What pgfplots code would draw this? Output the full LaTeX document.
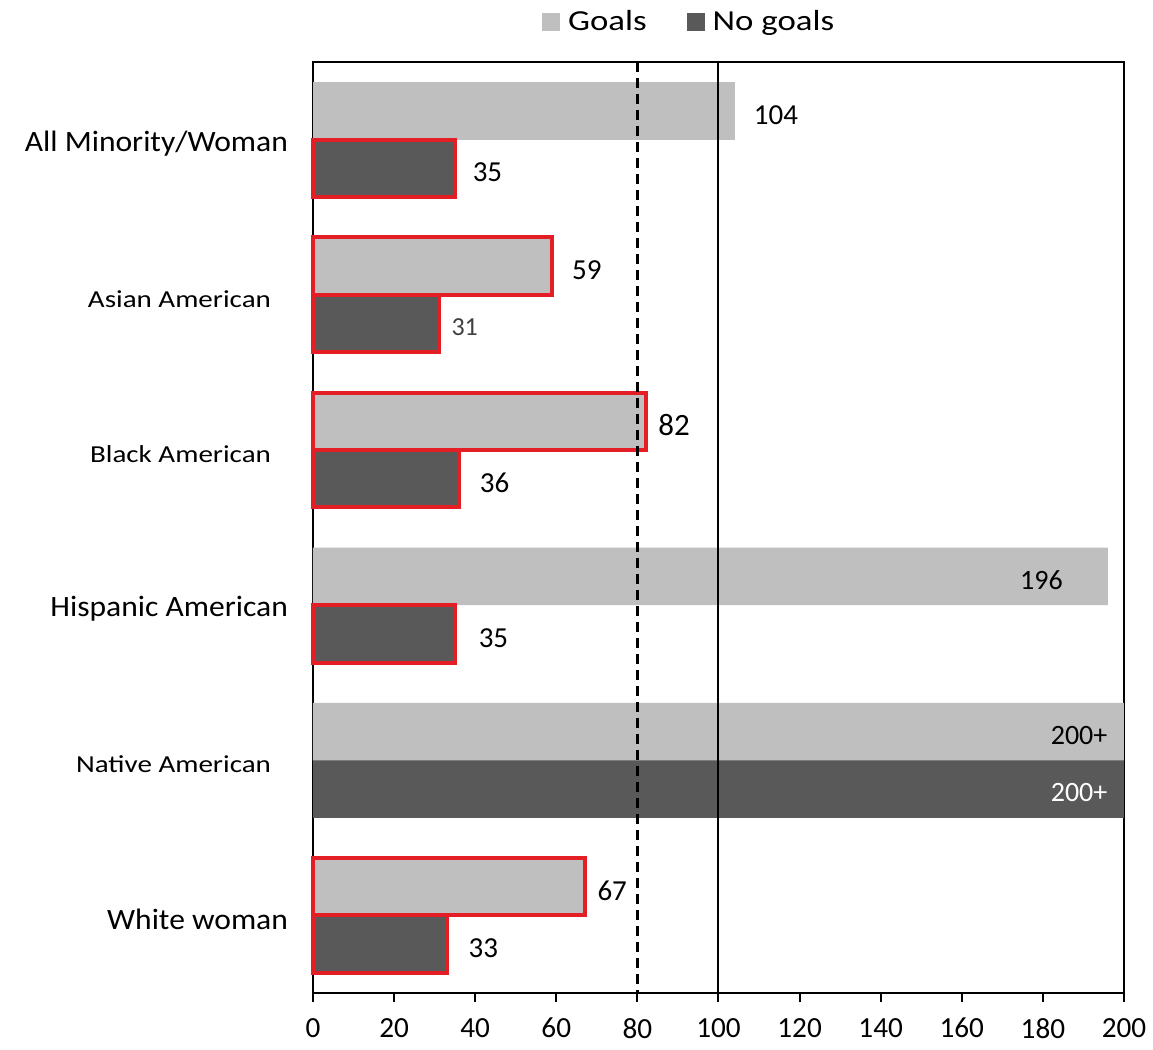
\documentclass[border=0pt]{standalone}
\usepackage{fontspec}
\setmainfont{Carlito}
\usepackage{pgfplots}
\pgfplotsset{compat=1.18}
\usepackage{graphicx}

\definecolor{goalgray}{HTML}{BFBFBF}
\definecolor{nogoalgray}{HTML}{595959}
\definecolor{flagred}{HTML}{E31E24}
\definecolor{softgray}{HTML}{404040}

\newcommand{\fs}[1]{\fontsize{#1}{#1}\selectfont}
% wide-set category labels
\newcommand{\biglab}[1]{\scalebox{1.07}[1]{\fs{14.75}#1}}
\newcommand{\smalllab}[1]{\scalebox{1.19}[1]{\fs{12.2}#1}\kern8.5pt}

\begin{document}
\begin{tikzpicture}
\begin{axis}[
  name=ax,
  scale only axis,
  width=405.5pt, height=465.5pt,
  xmin=0, xmax=200,
  ymin=-0.5, ymax=5.5,
  y dir=reverse,
  xtick={0,20,...,200},
  ytick={0,...,5},
  yticklabels={
    {\biglab{All Minority/Woman}},
    {\smalllab{Asian American}},
    {\smalllab{Black American}},
    {\biglab{Hispanic American}},
    {\smalllab{Native American}},
    {\biglab{White woman}}},
  axis line style={line width=1pt},
  tick align=outside,
  xtick pos=left,
  ytick pos=left,
  major tick length=4.5pt,
  xtick style={line width=1pt, black},
  ytick style={draw=none},
  xticklabel style={font=\fs{14.6}, yshift=-4.5pt},
  yticklabel style={xshift=-4.5pt, yshift=-2pt},
  /pgf/number format/assume math mode=true,
  legend columns=2,
  legend style={draw=none, fill=none, at={(0.465,1.043)}, anchor=center,
    font=\fs{14.5},
    /tikz/every odd column/.append style={column sep=2pt},
    /tikz/every even column/.append style={column sep=18pt}},
  legend image code/.code={\fill[#1] (0pt,-4.5pt) rectangle (9pt,4.5pt);},
  every node near coord/.append style={yshift=-2pt},
  clip=false,
]

% Goals, no outline, value printed to the right
\addplot[xbar, bar width=0.37, bar shift=0pt, fill=goalgray, draw=none,
  nodes near coords, point meta=explicit symbolic,
  nodes near coords style={anchor=west, xshift=4.6pt, font=\fs{14.5}, text=black}]
  coordinates {(104,-0.185) [\kern1.5pt 104]};
\addlegendentry{\scalebox{1.2}[1]{Goals}}

% No goals, no outline, value printed inside the bar
\addplot[xbar, bar width=0.37, bar shift=0pt, fill=nogoalgray, draw=none,
  nodes near coords, point meta=explicit symbolic,
  nodes near coords style={anchor=east, xshift=-4.8pt, font=\fs{14}, text=white}]
  coordinates {(200,4.185) [200+]};
\addlegendentry{\scalebox{1.2}[1]{No goals}}

% Goals, no outline, value printed inside the bar
\addplot[xbar, bar width=0.37, bar shift=0pt, fill=goalgray, draw=none, forget plot,
  nodes near coords, point meta=explicit symbolic,
  nodes near coords style={anchor=east, font=\fs{14}, text=black}]
  coordinates {(196,2.815) [196\kern19pt]
               (200,3.815) [200+\kern4.8pt]};

% Goals, outlined in red
\addplot[xbar, bar width=0.37, bar shift=0pt, fill=goalgray, draw=flagred,
  line width=2pt, forget plot,
  nodes near coords, point meta=explicit symbolic,
  nodes near coords style={anchor=west, xshift=4.6pt, font=\fs{14.5}, text=black}]
  coordinates {(59,0.815) [\kern1pt 59]
               (82,1.815) [\kern-2.5pt\fs{15.5}82]
               (67,4.815) [\kern-2.5pt 67]};

% No goals, outlined in red
\addplot[xbar, bar width=0.37, bar shift=0pt, fill=nogoalgray, draw=flagred,
  line width=2pt, forget plot,
  nodes near coords, point meta=explicit symbolic,
  nodes near coords style={anchor=west, xshift=4.6pt, font=\fs{14.5}, text=black}]
  coordinates {(35,0.185) [35]
               (31,1.185) [\kern-2.5pt{\fs{13}\color{softgray}31}]
               (36,2.185) [\kern1.5pt 36]
               (35,3.185) [\kern3pt 35]
               (33,5.185) [\kern2pt 33]};

% Reference lines at 80 and 100
\addplot[black, line width=1.5pt, dash pattern=on 5pt off 3pt, forget plot]
  coordinates {(80,-0.5) (80,5.5)};
\addplot[black, line width=1pt, forget plot]
  coordinates {(100,-0.5) (100,5.5)};
\end{axis}
\pgfresetboundingbox
\path[use as bounding box] ([shift={(-156.5pt,-28.5pt)}]ax.south west)
  rectangle ([shift={(14.5pt,31pt)}]ax.north east);
\end{tikzpicture}
\end{document}
